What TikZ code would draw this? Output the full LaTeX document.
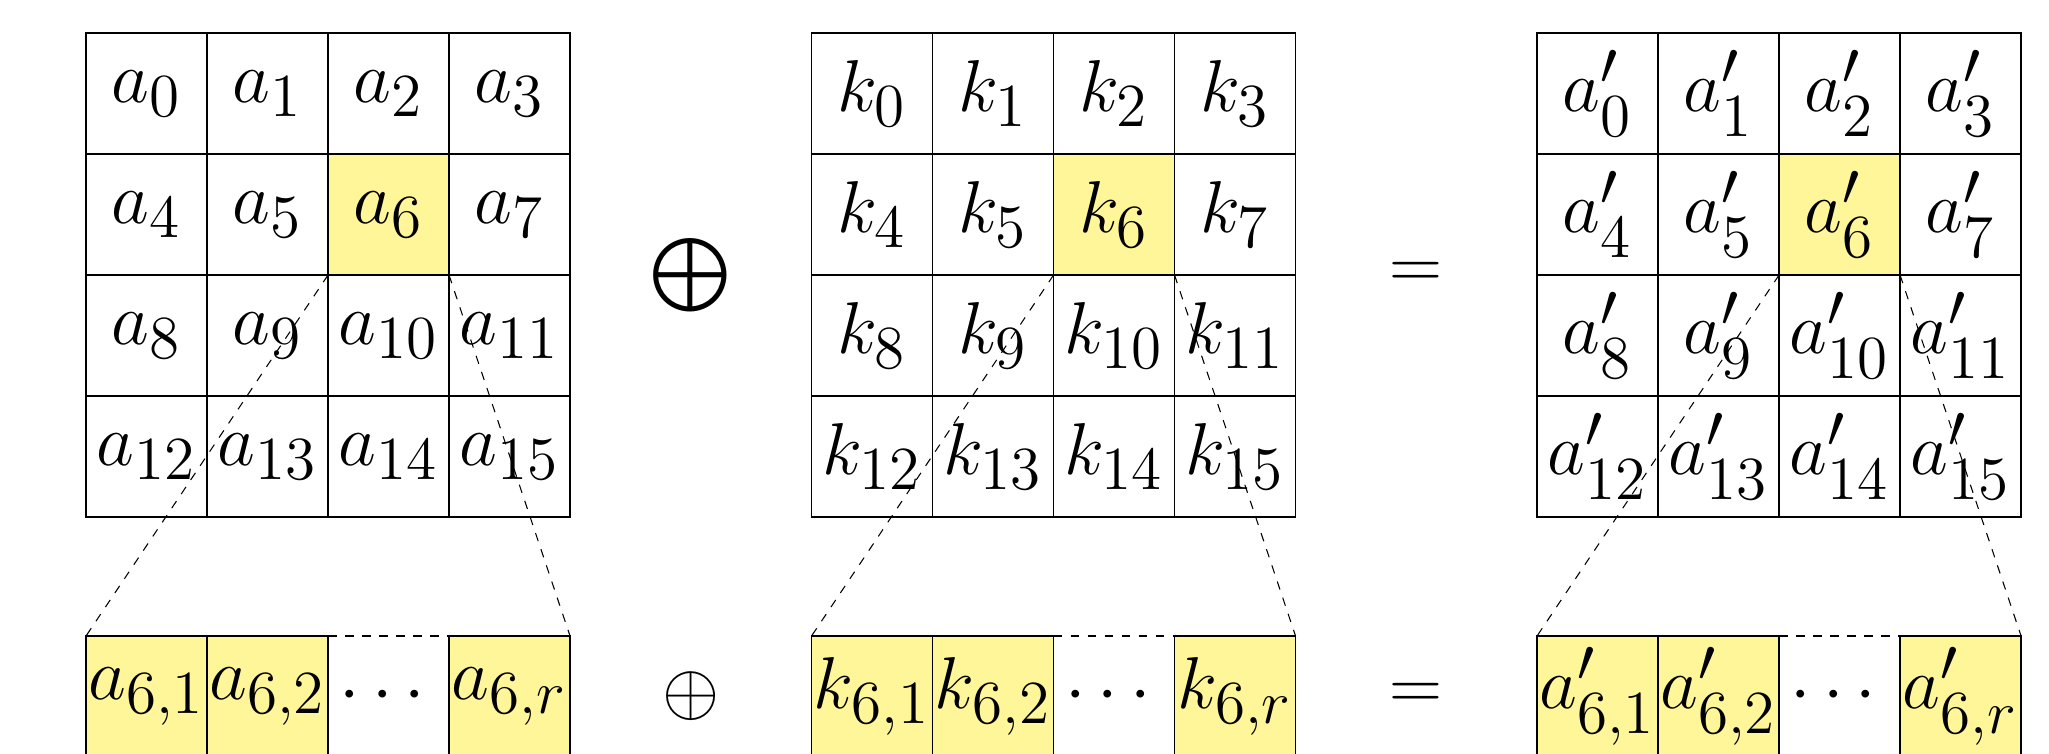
\documentclass[tikz,border=0pt]{standalone}
\usepackage{amsmath}
\usetikzlibrary{positioning}
\definecolor{cellyellow}{RGB}{255,246,154}

\begin{document}
\begin{tikzpicture}[
    cell/.style={rectangle, draw=black, minimum size=1cm, inner sep=0pt,
                 outer sep=0pt, font=\fontsize{19}{23}\selectfont},
    hot/.style={cell, fill=cellyellow},
    gap/.style={rectangle, minimum size=1cm, inner sep=0pt, outer sep=0pt,
                font=\fontsize{19}{23}\selectfont},
    op/.style={inner sep=0pt, font=\fontsize{19}{23}\selectfont},
    zoomline/.style={dash pattern=on 2pt off 2pt, line width=0.25pt}
]
\useasboundingbox (0,0) rectangle (16.934,-6.231);

% the three 4x4 blocks
\foreach \g/\x/\sym in {a/0.711/a, k/6.707/k, p/12.703/a'} {
  \foreach \i in {0,...,15} {
    \pgfmathtruncatemacro{\col}{mod(\i,4)}
    \pgfmathtruncatemacro{\row}{div(\i,4)}
    \ifnum\i=6 \def\sty{hot}\else\def\sty{cell}\fi
    \node[\sty] (\g\i) at (\x+\col+0.5, -0.773-\row) {$\sym_{\i}$};
  }
  % the sixth byte, split up
  \node[hot] (\g b1) at (\x+0.5, -5.756) {$\sym_{6,1}$};
  \node[hot, right=0pt of \g b1] (\g b2) {$\sym_{6,2}$};
  \node[gap, right=0pt of \g b2] (\g bd) {$\cdots$};
  \node[hot, right=0pt of \g bd] (\g br) {$\sym_{6,r}$};
  \draw[zoomline] (\g6.south west) -- (\g b1.north west);
  \draw[zoomline] (\g6.south east) -- (\g br.north east);
  \draw[zoomline] (\g b2.north east) -- (\g br.north west);
}

\node[op] (xorTop) at (5.709,-2.273) {$\bigoplus$};
\node[op] (eqTop) at (11.705,-2.273) {$=$};
\node[op] (xorBot) at (5.709,-5.756) {$\oplus$};
\node[op] (eqBot) at (11.705,-5.756) {$=$};
\end{tikzpicture}
\end{document}
